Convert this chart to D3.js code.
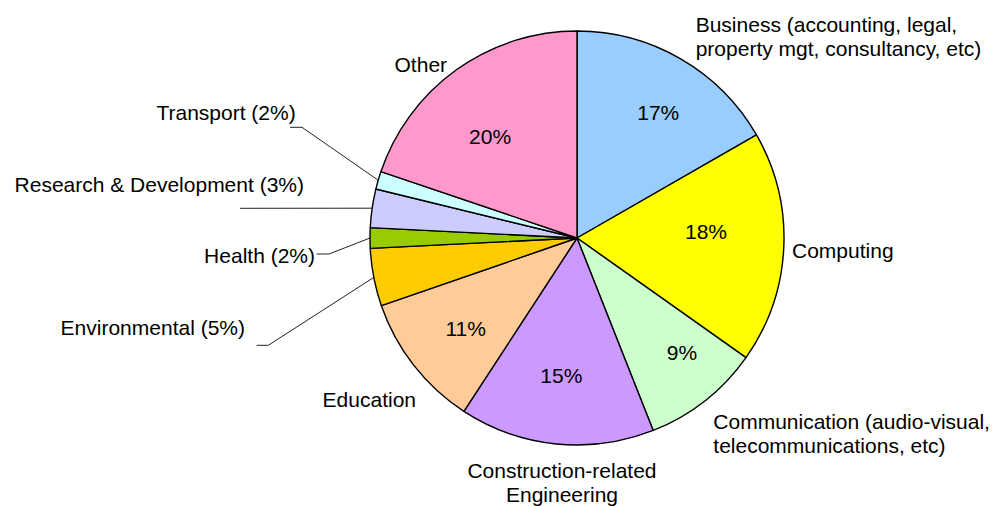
<!DOCTYPE html>
<html>
<head>
<meta charset="utf-8">
<script src="https://cdn.jsdelivr.net/npm/d3@7"></script>
<style>
  body { margin: 0; background: #fff; }
  text { font-family: "Liberation Sans", Arial, sans-serif; font-size: 21px; fill: #000; }
</style>
</head>
<body>
<div id="chart"></div>
<script>
// shares (%), clockwise from 12 o'clock
const categories = ["Business", "Computing", "Communication", "Construction-related Engineering",
    "Education", "Environmental", "Health", "Research & Development", "Transport", "Other"];
const values = [16.7, 18.1, 9.2, 15.2, 10.5, 4.5, 1.6, 3.0, 1.4, 19.8];
const pctText = ["17%", "18%", "9%", "15%", "11%", "5%", "2%", "3%", "2%", "20%"];
const nameLines = [
    ["Business (accounting, legal,", "property mgt, consultancy, etc)"],
    ["Computing"],
    ["Communication (audio-visual,", "telecommunications, etc)"],
    ["Construction-related", "Engineering"],
    ["Education"],
    ["Environmental (5%)"],
    ["Health (2%)"],
    ["Research & Development (3%)"],
    ["Transport (2%)"],
    ["Other"]
];
const colors = ["#99ccff", "#ffff00", "#ccffcc", "#cc99ff", "#ffcc99",
    "#ffcc00", "#99cc00", "#ccccff", "#ccffff", "#ff99cc"];

// label placement (not data); shift = nudge of the % label from the centroid
const layout = [
    {x: 695.7, y: 32, anchor: "start", shift: [8.6, 0]},
    {x: 792, y: 257.7, anchor: "start", shift: [-15.8, -12.8]},
    {x: 713.3, y: 428.5, anchor: "start", shift: [15.3, 0.7]},
    {x: 562, y: 478, anchor: "middle", shift: [-1.1, -6.3]},
    {x: 416, y: 407.3, anchor: "end", shift: [3, 1]},
    {x: 245, y: 335, anchor: "end", leader: [[256.7, 345.3], [268.3, 345.3]]},
    {x: 315, y: 263.3, anchor: "end", leader: [[316.7, 254], [329, 254]]},
    {x: 304, y: 191.7, anchor: "end", leader: [[240, 208.3]]},
    {x: 295.7, y: 120, anchor: "end", leader: [[290, 127.3], [302, 127.3]]},
    {x: 420.8, y: 71.7, anchor: "middle", shift: [-2.4, 16.3]}
];

const width = 996, height = 506;
const cx = 577, cy = 238, r = 207;
const lineH = 24;

const svg = d3.select("#chart").append("svg")
    .attr("width", width)
    .attr("height", height);

const pie = d3.pie().sort(null).value(d => d);
const arcs = pie(values);
const arc = d3.arc().innerRadius(0).outerRadius(r);
const labelArc = d3.arc().innerRadius(145).outerRadius(145);

const g = svg.append("g").attr("transform", `translate(${cx},${cy})`);

g.selectAll("path")
    .data(arcs)
  .enter()
    .append("path")
    .attr("d", arc)
    .attr("fill", (d, i) => colors[i])
    .attr("stroke", "#000")
    .attr("stroke-width", 1.4)
    .attr("stroke-linejoin", "round");

// percentages inside the bigger slices
g.selectAll("text.pct")
    .data(arcs.filter((d, i) => layout[i].shift))
  .enter()
    .append("text")
    .attr("class", "pct")
    .attr("text-anchor", "middle")
    .attr("dy", "0.35em")
    .attr("x", d => labelArc.centroid(d)[0] + layout[d.index].shift[0])
    .attr("y", d => labelArc.centroid(d)[1] + layout[d.index].shift[1])
    .text(d => pctText[d.index]);

// leader lines for thin slices
const line = d3.line();
arcs.forEach((d, i) => {
    let lay = layout[i];
    if (!lay.leader) return;
    let a = (d.startAngle + d.endAngle) / 2;
    let edge = [cx + Math.sin(a) * r, cy - Math.cos(a) * r];
    svg.append("path")
        .attr("d", line(lay.leader.concat([edge])))
        .attr("fill", "none")
        .attr("stroke", "#222")
        .attr("stroke-width", 1);
});

// category names
nameLines.forEach((lines, i) => {
    let lay = layout[i];
    let t = svg.append("text")
        .attr("text-anchor", lay.anchor)
        .attr("x", lay.x)
        .attr("y", lay.y);
    lines.forEach((s, j) => {
        t.append("tspan")
            .attr("x", lay.x)
            .attr("dy", j == 0 ? 0 : lineH)
            .text(s);
    });
});
</script>
</body>
</html>
